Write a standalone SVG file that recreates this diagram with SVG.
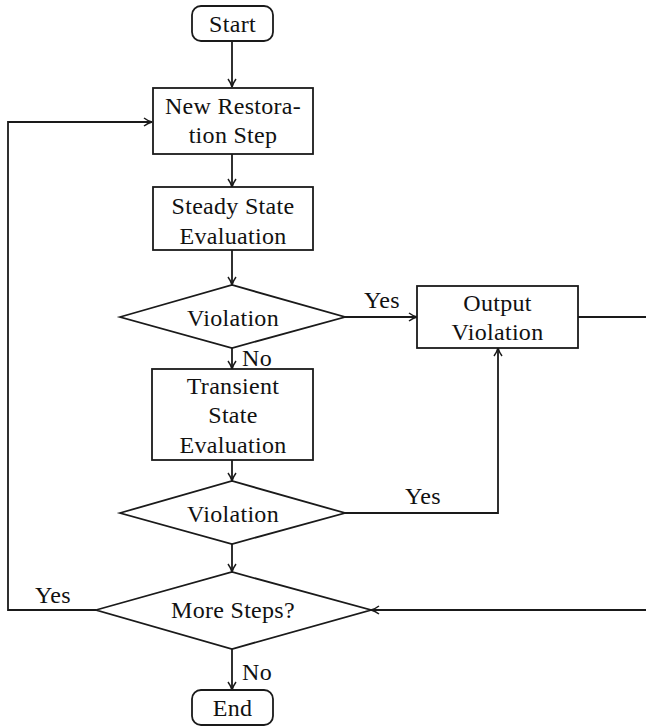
<svg xmlns="http://www.w3.org/2000/svg" width="646" height="727" viewBox="0 0 646 727">
<defs>
<marker id="arr" viewBox="0 0 10 10" refX="9" refY="5" markerWidth="10" markerHeight="10" markerUnits="userSpaceOnUse" orient="auto">
<path d="M1,1 Q5,4 9,5 Q5,6 1,9" fill="none" stroke="#1a1a1a" stroke-width="1.5"/>
</marker>
</defs>
<style>
.n{fill:#fff;stroke:#1a1a1a;stroke-width:1.8}
.t{font-family:"Liberation Serif","DejaVu Serif",serif;font-size:24px;letter-spacing:0.3px;fill:#111;text-anchor:middle}
.l{font-family:"Liberation Serif","DejaVu Serif",serif;font-size:24px;letter-spacing:0.3px;fill:#111}
.c{fill:none;stroke:#1a1a1a;stroke-width:1.8}
</style>
<rect width="646" height="727" fill="#fff"/>
<g id="connectors">
<line class="c" x1="232" y1="41" x2="232" y2="87" marker-end="url(#arr)"/>
<line class="c" x1="232" y1="154" x2="232" y2="187" marker-end="url(#arr)"/>
<line class="c" x1="232" y1="250" x2="232" y2="285" marker-end="url(#arr)"/>
<line class="c" x1="345" y1="317" x2="417" y2="317" marker-end="url(#arr)"/>
<line class="c" x1="232" y1="348" x2="232" y2="369" marker-end="url(#arr)"/>
<line class="c" x1="232" y1="460" x2="232" y2="481" marker-end="url(#arr)"/>
<polyline class="c" points="345,513 498,513 498,348" marker-end="url(#arr)"/>
<line class="c" x1="232" y1="544" x2="232" y2="572" marker-end="url(#arr)"/>
<line class="c" x1="578" y1="317" x2="646" y2="317"/>
<line class="c" x1="646" y1="610" x2="371" y2="610" marker-end="url(#arr)"/>
<polyline class="c" points="96,610 8,610 8,122 152,122" marker-end="url(#arr)"/>
<line class="c" x1="232" y1="649" x2="232" y2="690" marker-end="url(#arr)"/>
<text class="l" x="364" y="308">Yes</text>
<text class="l" x="242" y="366">No</text>
<text class="l" x="405" y="504">Yes</text>
<text class="l" x="35" y="603">Yes</text>
<text class="l" x="242" y="680">No</text>
</g>
<g id="start">
<rect class="n" x="192" y="6" width="81" height="35" rx="9"/>
<text class="t" x="232.5" y="32">Start</text>
</g>
<g id="new-step">
<rect class="n" x="153" y="88" width="160" height="66"/>
<text class="t" x="233" y="114">New Restora-</text>
<text class="t" x="233" y="143">tion Step</text>
</g>
<g id="steady">
<rect class="n" x="153" y="187" width="160" height="63"/>
<text class="t" x="233" y="214">Steady State</text>
<text class="t" x="233" y="244">Evaluation</text>
</g>
<g id="violation1">
<polygon class="n" points="120,317 232,285 345,317 232,348"/>
<text class="t" x="233" y="326">Violation</text>
</g>
<g id="output">
<rect class="n" x="417" y="286" width="161" height="62"/>
<text class="t" x="497.5" y="311">Output</text>
<text class="t" x="497.5" y="340">Violation</text>
</g>
<g id="transient">
<rect class="n" x="152" y="369" width="161" height="91"/>
<text class="t" x="233" y="394">Transient</text>
<text class="t" x="233" y="423">State</text>
<text class="t" x="233" y="453">Evaluation</text>
</g>
<g id="violation2">
<polygon class="n" points="120,513 232,481 345,513 232,544"/>
<text class="t" x="233" y="522">Violation</text>
</g>
<g id="more">
<polygon class="n" points="96,610 232,572 371,610 232,649"/>
<text class="t" x="233" y="618">More Steps?</text>
</g>
<g id="end">
<rect class="n" x="192" y="690" width="81" height="35" rx="9"/>
<text class="t" x="232.5" y="716">End</text>
</g>
</svg>
